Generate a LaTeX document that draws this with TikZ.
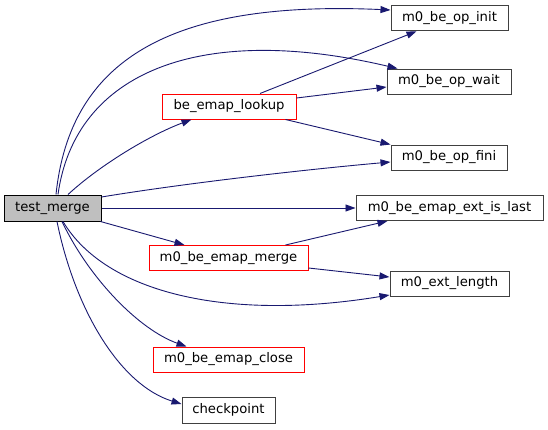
\documentclass[tikz,border=0pt]{standalone}
\usepackage{fontspec}
\setmainfont{DejaVu Sans}
\usetikzlibrary{arrows.meta}
\definecolor{edgeblue}{HTML}{191970}
\definecolor{boxgray}{HTML}{404040}
\begin{document}
\begin{tikzpicture}[x=1pt,y=-1pt,
  fn/.style={draw=boxgray,line width=1pt,rectangle,inner sep=0pt,minimum height=25pt,
    font=\fontsize{13.2}{16}\selectfont,text=black,fill=white},
  trunc/.style={fn,draw=red},
  root/.style={fn,draw=black,fill=black!25},
  call/.style={draw=edgeblue,line width=0.9pt,-{Triangle[length=10pt,width=7pt]},fill=none},
  every path/.append style={}]
\useasboundingbox[fill=white] (0,0) rectangle (548,429);

\node[root,minimum width=97pt,minimum height=26pt] (tm) at (52.5,208) {test\_merge};
\node[trunc,minimum width=134pt] (lookup) at (229,106.5) {be\_emap\_lookup};
\node[trunc,minimum width=159pt] (merge) at (228.5,258) {m0\_be\_emap\_merge};
\node[trunc,minimum width=151pt] (close) at (228.5,359.5) {m0\_be\_emap\_close};
\node[fn,minimum width=93pt,minimum height=26pt] (cp) at (228.5,410) {checkpoint};
\node[fn,minimum width=117pt] (init) at (449.5,18.3) {m0\_be\_op\_init};
\node[fn,minimum width=124pt] (wait) at (449,81.5) {m0\_be\_op\_wait};
\node[fn,minimum width=116pt] (fini) at (449,157.5) {m0\_be\_op\_fini};
\node[fn,minimum width=187pt] (last) at (449.5,208) {m0\_be\_emap\_ext\_is\_last};
\node[fn,minimum width=119pt] (len) at (449.5,283.5) {m0\_ext\_length};

% from test_merge
\draw[call] ([xshift=3.5pt]tm.north) .. controls (70,60) and (170,0) .. ([yshift=8.3pt]init.west);
\draw[call] ([xshift=5.5pt]tm.north) .. controls (75,72) and (200,22) .. ([xshift=11pt]wait.north west);
\draw[call] ([xshift=15.5pt]tm.north) .. controls (100,165) and (150,135) .. ([xshift=30pt]lookup.south west);
\draw[call] ([yshift=11pt]tm.east) .. controls (180,184) and (300,170) .. ([yshift=-4.5pt]fini.west);
\draw[call] (tm.east) -- (last.west);
\draw[call] ([xshift=-1pt]tm.south east) -- ([xshift=36pt]merge.north west);
\draw[call] ([xshift=10.5pt]tm.south) .. controls (105,292) and (225,322) .. ([yshift=-11.5pt]len.west);
\draw[call] ([xshift=9.5pt]tm.south) .. controls (90,280) and (140,330) .. ([xshift=34pt]close.north west);
\draw[call] ([xshift=4.5pt]tm.south) .. controls (75,310) and (120,385) .. ([yshift=6pt]cp.west);

% from be_emap_lookup
\draw[call] ([xshift=31pt]lookup.north) -- ([xshift=26pt]init.south west);
\draw[call] ([yshift=8.5pt]lookup.east) -- ([yshift=-5.5pt]wait.west);
\draw[call] ([xshift=-11pt]lookup.south east) -- (fini.north west);

% from m0_be_emap_merge
\draw[call] ([xshift=-23pt]merge.north east) -- ([xshift=32pt]last.south west);
\draw[call] ([yshift=-10pt]merge.east) -- ([yshift=6.5pt]len.west);
\end{tikzpicture}
\end{document}
